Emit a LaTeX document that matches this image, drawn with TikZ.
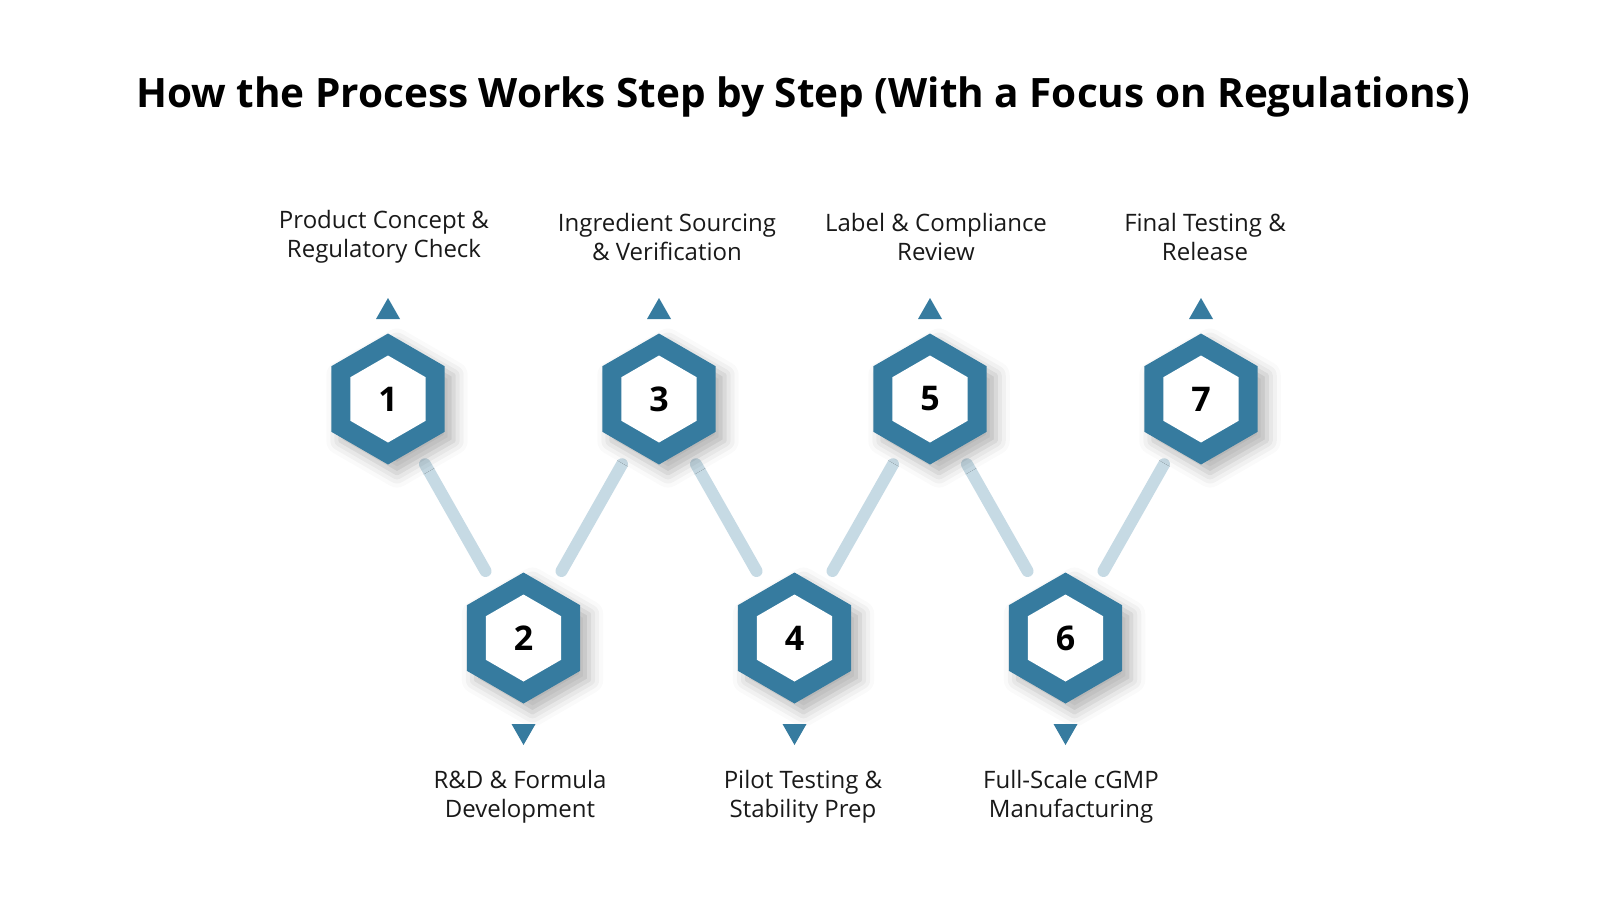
\documentclass[tikz,border=0pt]{standalone}
\usepackage{fontspec}
\setmainfont{Open Sans}
\usetikzlibrary{calc,shadows.blur}
\definecolor{hexblue}{HTML}{367B9F}
\definecolor{linkblue}{HTML}{C6DAE4}
\tikzset{
  lbl/.style={font=\fontsize{24}{29.5}\selectfont, align=center, text=black!90},
  num/.style={font=\fontsize{34}{34}\selectfont\bfseries},
  link/.style={line width=12pt, linkblue, line cap=round},
}
\newcommand{\hexat}[2]{%
  \fill[hexblue, blur shadow={shadow xshift=9pt, shadow yshift=-9pt, shadow blur radius=14pt, shadow opacity=30}]
    ($(#1)+(90:65.5)$) -- ($(#1)+(150:65.5)$) -- ($(#1)+(210:65.5)$) -- ($(#1)+(270:65.5)$) -- ($(#1)+(330:65.5)$) -- ($(#1)+(30:65.5)$) -- cycle;
  \fill[white] ($(#1)+(90:43.5)$) -- ($(#1)+(150:43.5)$) -- ($(#1)+(210:43.5)$) -- ($(#1)+(270:43.5)$) -- ($(#1)+(330:43.5)$) -- ($(#1)+(30:43.5)$) -- cycle;
  \node[num] at (#1) {#2};
}
\begin{document}
\begin{tikzpicture}[x=1pt,y=-1pt]
\useasboundingbox (0,0) rectangle (1600,900);
\node[font=\fontsize{40.5}{40.5}\selectfont\bfseries] (title) at (803,97) {How the Process Works Step by Step (With a Focus on Regulations)};
\foreach \i/\x/\y in {1/388/399,2/523.5/638,3/659/399,4/794.5/638,5/930/399,6/1065.5/638,7/1201/399}{
  \coordinate (h\i) at (\x,\y);
}
\foreach \a/\b in {1/2,3/2,3/4,5/4,5/6,7/6}{
  \draw[link] ($(h\a)!75pt!(h\b)$) -- ($(h\b)!77pt!(h\a)$);
}
\foreach \i in {1,...,7}{ \hexat{h\i}{\i} }
\foreach \i in {1,3,5,7}{
  \fill[hexblue] ($(h\i)+(0,-101)$) -- ($(h\i)+(-12,-80)$) -- ($(h\i)+(12,-80)$) -- cycle;
}
\foreach \i in {2,4,6}{
  \fill[hexblue] ($(h\i)+(0,107)$) -- ($(h\i)+(-12,86)$) -- ($(h\i)+(12,86)$) -- cycle;
}
\node[lbl] (t1) at (384,237) {Product Concept \&\\Regulatory Check};
\node[lbl] (t3) at (667,237) {Ingredient Sourcing\\\& Verification};
\node[lbl] (t5) at (936,237) {Label \& Compliance\\Review};
\node[lbl] (t7) at (1205,237) {Final Testing \&\\Release};
\node[lbl] (b2) at (520,797) {R\&D \& Formula\\Development};
\node[lbl] (b4) at (803,797) {Pilot Testing \&\\Stability Prep};
\node[lbl] (b6) at (1071,797) {Full-Scale cGMP\\Manufacturing};
\end{tikzpicture}
\end{document}
